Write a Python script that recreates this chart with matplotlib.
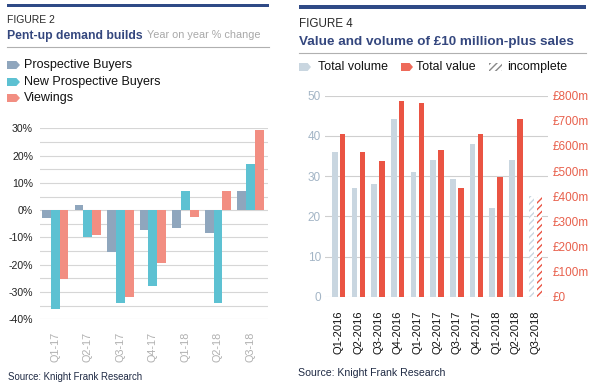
import matplotlib
matplotlib.use("Agg")
import matplotlib.pyplot as plt
from matplotlib.patches import Polygon, Rectangle
import numpy as np

plt.rcParams['font.family'] = ['Liberation Sans', 'DejaVu Sans']
plt.rcParams['hatch.linewidth'] = 1.0

# ---- Figure 2 data ----
quarters2 = ["Q1-17", "Q2-17", "Q3-17", "Q4-17", "Q1-18", "Q2-18", "Q3-18"]
prospective = [-3.0, 2.0, -15.2, -7.1, -6.7, -8.5, 7.1]
new_prospective = [-36.3, -9.8, -34.1, -27.9, 7.1, -33.9, 17.0]
viewings = [-25.1, -9.0, -32.0, -19.3, -2.4, 7.1, 29.4]
yticks2 = [30, 20, 10, 0, -10, -20, -30, -40]

# ---- Figure 4 data ----
quarters4 = ["Q1-2016", "Q2-2016", "Q3-2016", "Q4-2016", "Q1-2017", "Q2-2017",
             "Q3-2017", "Q4-2017", "Q1-2018", "Q2-2018", "Q3-2018"]
volume = [36.0, 27.1, 28.1, 44.1, 31.0, 34.0, 29.3, 38.1, 22.1, 34.0, 25.0]
value_m = [646, 576, 542, 780, 772, 585, 434, 646, 477, 707, 395]
incomplete = [False] * 10 + [True]
right_ticks = [0, 100, 200, 300, 400, 500, 600, 700, 800]

C_PB = "#8FA6BD"
C_NPB = "#5DC1D2"
C_V = "#F28E82"
C_VOL = "#C9D6E0"
C_VAL = "#EA5443"
NAVY = "#34477E"
BAR_BLUE = "#2F4A86"

W, H = 596, 386
fig = plt.figure(figsize=(W / 100, H / 100), dpi=100)

def px_axes(x0, y0, x1, y1):
    return fig.add_axes([x0 / W, 1 - y1 / H, (x1 - x0) / W, (y1 - y0) / H])

# overlay for decorations, pixel coords
ov = fig.add_axes([0, 0, 1, 1])
ov.set_xlim(0, W)
ov.set_ylim(H, 0)
ov.axis("off")
ov.set_zorder(5)
ov.patch.set_alpha(0)

def arrow_marker(x, y, color, w=13, h=8, hatch=None):
    pts = [(x, y - h / 2), (x + w * 0.72, y - h / 2), (x + w, y),
           (x + w * 0.72, y + h / 2), (x, y + h / 2)]
    if hatch:
        ov.add_patch(Rectangle((x, y - h / 2), w, h, facecolor="white",
                               edgecolor=color, lw=0, hatch=hatch))
    else:
        ov.add_patch(Polygon(pts, closed=True, facecolor=color, edgecolor="none"))

# ---------- Left panel decorations ----------
ov.add_patch(Rectangle((7, 4), 262, 3.3, facecolor=BAR_BLUE, edgecolor="none"))
ov.text(7, 20, "FIGURE 2", fontsize=7.5, color="#2a2a2a", va="center", ha="left")
ov.text(7, 35.5, "Pent-up demand builds", fontsize=8.8, color=NAVY,
        fontweight="bold", va="center", ha="left")
ov.text(147, 35.5, "Year on year % change", fontsize=7.8, color="#A8A8A8",
        va="center", ha="left")
ov.plot([7, 269], [47, 47], color="#B0B0B0", lw=0.8)
for yy, col, lab in [(65, C_PB, "Prospective Buyers"),
                     (82, C_NPB, "New Prospective Buyers"),
                     (98, C_V, "Viewings")]:
    arrow_marker(7, yy, col)
    ov.text(24, yy, lab, fontsize=9.0, color="#111111", va="center", ha="left")
ov.text(8, 377, "Source: Knight Frank Research", fontsize=6.9, color="#1F2A44",
        va="center", ha="left")

# ---------- Left chart ----------
ax1 = px_axes(40, 128.3, 268, 319.3)
x2 = np.arange(len(quarters2))
bw = 0.27
ax1.bar(x2 - bw, prospective, bw, color=C_PB, zorder=2)
ax1.bar(x2, new_prospective, bw, color=C_NPB, zorder=2)
ax1.bar(x2 + bw, viewings, bw, color=C_V, zorder=2)
ax1.set_xlim(-0.47, 6.54)
ax1.set_ylim(-40, 30)
for g in np.arange(-40, 31, 5):
    ax1.axhline(g, color="#D6D6D6", lw=0.8, zorder=1)
ax1.set_yticks(yticks2)
ax1.set_yticklabels([f"{v}%" for v in yticks2], fontsize=7.6, color="#222222")
ax1.set_xticks(x2)
ax1.set_xticklabels(quarters2, rotation=90, fontsize=7.8, color="#B0B0B0")
ax1.tick_params(axis="both", length=0)
ax1.tick_params(axis="y", pad=5)
ax1.tick_params(axis="x", pad=9)
for s in ax1.spines.values():
    s.set_visible(False)

# ---------- Right panel decorations ----------
ov.add_patch(Rectangle((299, 5), 287, 4, facecolor=BAR_BLUE, edgecolor="none"))
ov.text(299, 24, "FIGURE 4", fontsize=8.4, color="#2a2a2a", va="center", ha="left")
ov.text(299, 41.5, "Value and volume of £10 million-plus sales", fontsize=9.7,
        color=NAVY, fontweight="bold", va="center", ha="left")
ov.plot([299, 586], [53, 53], color="#B0B0B0", lw=0.8)
arrow_marker(299, 67, C_VOL, w=12)
ov.text(318, 67, "Total volume", fontsize=8.9, color="#111111", va="center", ha="left")
arrow_marker(401, 67, "#EE6A5A", w=12)
ov.text(416, 67, "Total value", fontsize=8.9, color="#111111", va="center", ha="left")
arrow_marker(489, 67, "#888888", w=13, hatch="/////")
ov.text(507, 67, "incomplete", fontsize=8.9, color="#111111", va="center", ha="left")
ov.text(298, 373, "Source: Knight Frank Research", fontsize=7.6, color="#1F2A44",
        va="center", ha="left")

# ---------- Right chart ----------
ax2 = px_axes(325, 95.7, 548.3, 296.7)
ax3 = ax2.twinx()
x4 = np.arange(len(quarters4))
bw2 = 0.28
off = 0.2
for i in range(len(quarters4)):
    if incomplete[i]:
        ax2.bar(x4[i] - off, volume[i], bw2, facecolor="white", edgecolor=C_VOL,
                lw=0, hatch="/////", zorder=2)
        ax3.bar(x4[i] + off, value_m[i], bw2, facecolor="white", edgecolor=C_VAL,
                lw=0, hatch="/////", zorder=2)
    else:
        ax2.bar(x4[i] - off, volume[i], bw2, color=C_VOL, zorder=2)
        ax3.bar(x4[i] + off, value_m[i], bw2, color=C_VAL, zorder=2)
ax2.set_xlim(-0.7, 10.65)
ax2.set_ylim(0, 50)
ax3.set_ylim(0, 800)
for g in range(0, 51, 10):
    ax2.axhline(g, color="#CFCFCF", lw=0.8, zorder=1)
ax2.set_yticks(range(0, 51, 10))
ax2.tick_params(axis="y", labelsize=8.5, labelcolor="#A3B5C6", length=0, pad=3)
ax3.set_yticks(right_ticks)
ax3.set_yticklabels(["£0"] + [f"£{v}m" for v in right_ticks[1:]])
ax3.tick_params(axis="y", labelsize=8.5, labelcolor="#E8604C", length=0, pad=3)
ax2.set_xticks(x4)
ax2.set_xticklabels(quarters4, rotation=90, fontsize=8.0, color="#111111")
ax2.tick_params(axis="x", length=0, pad=10)
for a in (ax2, ax3):
    for s in a.spines.values():
        s.set_visible(False)

fig.savefig("out.png", dpi=100)
